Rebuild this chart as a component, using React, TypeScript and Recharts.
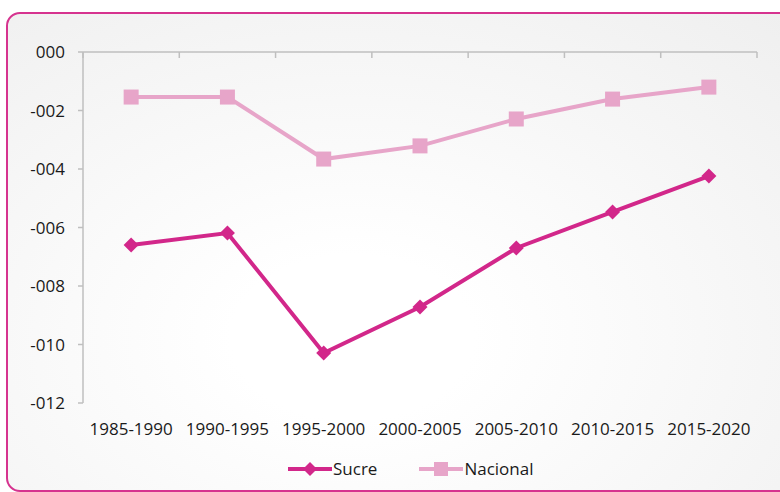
import React from "react";
import { LineChart, Line, XAxis, YAxis, Legend } from "recharts";

const periods = [
  "1985-1990",
  "1990-1995",
  "1995-2000",
  "2000-2005",
  "2005-2010",
  "2010-2015",
  "2015-2020",
];
const sucre = [-6.6, -6.19, -10.29, -8.72, -6.7, -5.47, -4.24];
const nacional = [-1.54, -1.54, -3.66, -3.21, -2.29, -1.61, -1.2];
const yTicks = [0, -2, -4, -6, -8, -10, -12];
const legendOrder = ["Sucre", "Nacional"];

const SUCRE = "#d2278a";
const NACIONAL = "#e7a5c9";
const AXIS = "#bfbfbf";
const FONT = "'Open Sans', sans-serif";

const data = periods.map((p, i) => ({
  idx: i,
  period: p,
  sucre: sucre[i],
  nacional: nacional[i],
}));

const catTicks = periods.map((_, i) => i);
const edgeTicks = [...periods.map((_, i) => i - 0.5), periods.length - 0.5];

const fmtY = (v: number) =>
  v === 0 ? "000" : (v < 0 ? "-" : "") + String(Math.abs(v)).padStart(3, "0");

const NoLabel = () => <g />;

const Diamond = (p: any) => {
  const { cx, cy, index } = p;
  if (cx == null || cy == null) return <g key={`d${index}`} />;
  const s = 7.5;
  return (
    <polygon
      key={`d${index}`}
      points={`${cx},${cy - s} ${cx + s},${cy} ${cx},${cy + s} ${cx - s},${cy}`}
      fill={SUCRE}
    />
  );
};

const Square = (p: any) => {
  const { cx, cy, index } = p;
  if (cx == null || cy == null) return <g key={`s${index}`} />;
  const s = 7.5;
  return (
    <rect key={`s${index}`} x={cx - s} y={cy - s} width={2 * s} height={2 * s} fill={NACIONAL} />
  );
};

const renderLegend = (props: any) => {
  const items = [...(props.payload || [])].sort(
    (a: any, b: any) => legendOrder.indexOf(a.value) - legendOrder.indexOf(b.value)
  );
  return (
    <div style={{ display: "flex", alignItems: "center", fontFamily: FONT, fontSize: 17, color: "#1a1a1a" }}>
      {items.map((it: any, i: number) => (
        <div key={it.value} style={{ display: "flex", alignItems: "center", marginRight: i === 0 ? 42 : 0 }}>
          <svg width={44} height={16} style={{ marginRight: 1 }}>
            <line x1={0} y1={8} x2={44} y2={8} stroke={it.color} strokeWidth={4} />
            {it.value === "Sucre" ? (
              <polygon points="22,1 29,8 22,15 15,8" fill={it.color} />
            ) : (
              <rect x={15} y={1} width={14} height={14} fill={it.color} />
            )}
          </svg>
          <span>{it.value}</span>
        </div>
      ))}
    </div>
  );
};

export default function App() {
  return (
    <div style={{ position: "absolute", left: 0, top: 0, width: 780, height: 492, overflow: "hidden", background: "#fff" }}>
      <div
        style={{
          position: "absolute",
          left: 6,
          top: 12,
          width: 820,
          height: 476,
          border: "2px solid #d6338f",
          borderRadius: 14,
          background: "radial-gradient(ellipse at 42% 68%, #ffffff 18%, #eeeeee 100%)",
        }}
      />
      <div style={{ position: "absolute", left: 0, top: 0 }}>
        <LineChart
          width={780}
          height={492}
          data={data}
          margin={{ top: 52, right: 23, bottom: 59, left: 23 }}
          style={{ fontFamily: FONT }}
        >
          <XAxis
            dataKey="idx"
            type="number"
            domain={[-0.5, periods.length - 0.5]}
            ticks={catTicks}
            interval={0}
            tickFormatter={(v: number) => periods[v] ?? ""}
            axisLine={false}
            tickLine={false}
            tickSize={0}
            tickMargin={20}
            height={30}
            tick={{ fontSize: 17, fill: "#1a1a1a", fontFamily: FONT }}
          />
          <XAxis
            xAxisId="top"
            dataKey="idx"
            type="number"
            orientation="top"
            mirror
            domain={[-0.5, periods.length - 0.5]}
            ticks={edgeTicks}
            interval={0}
            height={30}
            tick={NoLabel}
            tickSize={6}
            axisLine={{ stroke: AXIS, strokeWidth: 1.5 }}
            tickLine={{ stroke: AXIS, strokeWidth: 1.5 }}
          />
          <YAxis
            type="number"
            domain={[-12, 0]}
            ticks={yTicks}
            interval={0}
            width={60}
            tickFormatter={fmtY}
            tickSize={5}
            tickMargin={13}
            axisLine={{ stroke: AXIS, strokeWidth: 1.5 }}
            tickLine={{ stroke: AXIS, strokeWidth: 1.5 }}
            tick={{ fontSize: 17, fill: "#1a1a1a", fontFamily: FONT }}
          />
          <Legend
            layout="horizontal"
            verticalAlign="middle"
            align="center"
            content={renderLegend}
            wrapperStyle={{ top: 457, left: 288, width: 300 }}
          />
          <Line
            type="linear"
            dataKey="nacional"
            name="Nacional"
            stroke={NACIONAL}
            strokeWidth={4}
            dot={Square}
            activeDot={false}
            isAnimationActive={false}
          />
          <Line
            type="linear"
            dataKey="sucre"
            name="Sucre"
            stroke={SUCRE}
            strokeWidth={4}
            dot={Diamond}
            activeDot={false}
            isAnimationActive={false}
          />
        </LineChart>
      </div>
    </div>
  );
}
